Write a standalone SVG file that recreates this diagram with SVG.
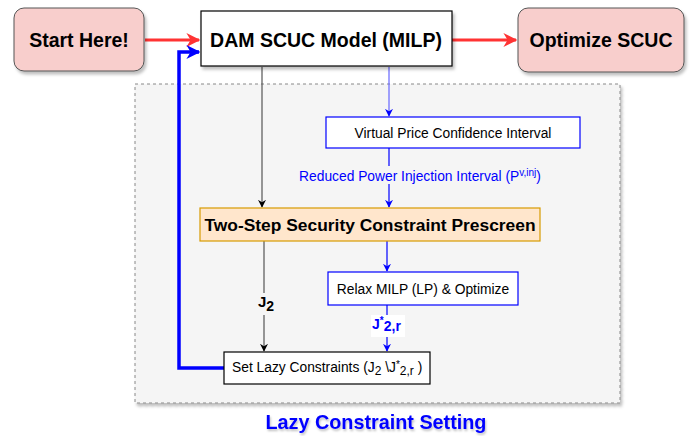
<svg xmlns="http://www.w3.org/2000/svg" width="697" height="436" viewBox="0 0 697 436">
  <defs>
    <filter id="shadow" x="-10%" y="-10%" width="130%" height="140%">
      <feDropShadow dx="2" dy="3" stdDeviation="1.5" flood-color="#000" flood-opacity="0.25"/>
    </filter>
    <filter id="textShadow" x="-5%" y="-20%" width="110%" height="160%">
      <feDropShadow dx="1" dy="2" stdDeviation="1" flood-color="#000" flood-opacity="0.25"/>
    </filter>
    <marker id="arrRed" viewBox="0 0 10 10" refX="9" refY="5" markerWidth="16" markerHeight="14" orient="auto" markerUnits="userSpaceOnUse">
      <path d="M0,0 L10,5 L0,10 L3,5 Z" fill="#ff3333"/>
    </marker>
    <marker id="arrBlack" viewBox="0 0 10 10" refX="9" refY="5" markerWidth="8" markerHeight="8" orient="auto" markerUnits="userSpaceOnUse">
      <path d="M0,0 L10,5 L0,10 L3,5 Z" fill="#000"/>
    </marker>
    <marker id="arrBlue" viewBox="0 0 10 10" refX="9" refY="5" markerWidth="8" markerHeight="8" orient="auto" markerUnits="userSpaceOnUse">
      <path d="M0,0 L10,5 L0,10 L3,5 Z" fill="#0000ff"/>
    </marker>
    <marker id="arrBlueBig" viewBox="0 0 10 10" refX="9" refY="5" markerWidth="14" markerHeight="14" orient="auto" markerUnits="userSpaceOnUse">
      <path d="M0,0 L10,5 L0,10 L3,5 Z" fill="#0000ff"/>
    </marker>
  </defs>
  <style>
    .big { font-family: "Liberation Sans", Arial, sans-serif; font-weight: bold; font-size: 19.5px; fill: #000; }
    .small { font-family: "Liberation Sans", Arial, sans-serif; font-size: 13.8px; fill: #000; }
    .lbl { font-family: "Liberation Sans", Arial, sans-serif; font-size: 13.8px; fill: #0000ff; }
    .pink { fill: #f8cecc; stroke: #555; stroke-width: 1; }
    .plain { fill: #fff; stroke: #000; stroke-width: 1.2; }
    .blueBox { fill: #fff; stroke: #0000ff; stroke-width: 1.2; }
  </style>

  <!-- Lazy constraint setting container -->
  <g id="container">
    <rect x="135" y="84" width="485" height="319" fill="#f5f5f5" stroke="#888" stroke-width="1" stroke-dasharray="3,3" filter="url(#shadow)"/>
    <text x="376" y="429" text-anchor="middle" font-family="Liberation Sans, Arial, sans-serif" font-weight="bold" font-size="19.8" fill="#0000ff" filter="url(#textShadow)">Lazy Constraint Setting</text>
  </g>

  <!-- Connectors -->
  <g id="connectors" fill="none">
    <line x1="145" y1="40" x2="199" y2="40" stroke="#ff3333" stroke-width="3" marker-end="url(#arrRed)"/>
    <line x1="452" y1="40" x2="516" y2="40" stroke="#ff3333" stroke-width="3" marker-end="url(#arrRed)"/>
    <line x1="262" y1="67" x2="262" y2="207" stroke="#555" stroke-width="1.2" marker-end="url(#arrBlack)"/>
    <line x1="389" y1="67" x2="389" y2="116" stroke="#6666ff" stroke-width="1.2" marker-end="url(#arrBlue)"/>
    <line x1="389" y1="148" x2="389" y2="207" stroke="#0000ff" stroke-width="1.2" marker-end="url(#arrBlue)"/>
    <line x1="387" y1="241" x2="387" y2="271" stroke="#0000ff" stroke-width="1.2" marker-end="url(#arrBlue)"/>
    <line x1="264" y1="241" x2="264" y2="351" stroke="#555" stroke-width="1.2" marker-end="url(#arrBlack)"/>
    <line x1="387" y1="305" x2="387" y2="351" stroke="#0000ff" stroke-width="1.2" marker-end="url(#arrBlue)"/>
    <polyline points="224,368 179,368 179,52 199,52" stroke="#0000ff" stroke-width="3.5" stroke-linejoin="miter" marker-end="url(#arrBlueBig)"/>
    <!-- connector labels -->
    <rect x="295" y="166" width="250" height="18" fill="#f5f5f5"/>
    <text x="420" y="181" text-anchor="middle" class="lbl">Reduced Power Injection Interval (P<tspan font-size="10" dy="-5">v,inj</tspan><tspan dy="5">)</tspan></text>
    <rect x="256" y="293" width="20" height="22" fill="#f5f5f5"/>
    <text x="258" y="307" font-family="Liberation Sans, Arial, sans-serif" font-weight="bold" font-size="15" fill="#000">J<tspan font-size="14" dy="4">2</tspan></text>
    <rect x="371" y="315" width="34" height="22" fill="#fff"/>
    <text x="372" y="329" font-family="Liberation Sans, Arial, sans-serif" font-weight="bold" font-size="14" fill="#0000ff">J<tspan font-size="10" dy="-5">*</tspan><tspan font-size="14" dy="7">2,r</tspan></text>
  </g>

  <g id="start">
    <rect x="14" y="8" width="130" height="63" rx="10" class="pink" filter="url(#shadow)"/>
    <text x="79" y="47" text-anchor="middle" class="big">Start Here!</text>
  </g>

  <g id="dam">
    <rect x="201" y="11" width="251" height="55" class="plain" filter="url(#shadow)"/>
    <text x="326" y="47" text-anchor="middle" class="big">DAM SCUC Model (MILP)</text>
  </g>

  <g id="optimize">
    <rect x="518" y="8" width="166" height="64" rx="10" class="pink" filter="url(#shadow)"/>
    <text x="601" y="47" text-anchor="middle" class="big">Optimize SCUC</text>
  </g>

  <g id="vpci">
    <rect x="326" y="117" width="254" height="31" class="blueBox"/>
    <text x="453" y="137.5" text-anchor="middle" class="small">Virtual Price Confidence Interval</text>
  </g>

  <g id="prescreen">
    <rect x="200" y="208" width="340" height="33" fill="#ffe6cc" stroke="#d79b00" stroke-width="1.2"/>
    <text x="370" y="231" text-anchor="middle" font-family="Liberation Sans, Arial, sans-serif" font-weight="bold" font-size="17.4" fill="#000">Two-Step Security Constraint Prescreen</text>
  </g>

  <g id="relax">
    <rect x="328" y="272" width="190" height="33" class="blueBox"/>
    <text x="423" y="293.5" text-anchor="middle" class="small">Relax MILP (LP) &amp; Optimize</text>
  </g>

  <g id="lazy">
    <rect x="224" y="352" width="206" height="32" class="plain"/>
    <text x="232" y="372" class="small">Set Lazy Constraints (J<tspan font-size="12" dy="3">2</tspan><tspan dy="-3"> \J</tspan><tspan font-size="10" dy="-4">*</tspan><tspan font-size="12" dy="7">2,r</tspan><tspan dy="-3"> )</tspan></text>
  </g>
</svg>
